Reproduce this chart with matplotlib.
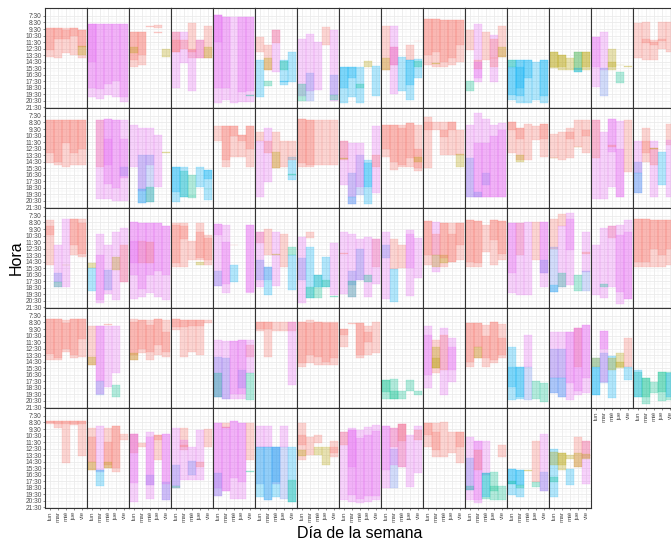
import numpy as np
import matplotlib
matplotlib.use('Agg')
from matplotlib import pyplot as plt

plt.rcParams['font.family'] = ['Liberation Sans', 'DejaVu Sans']

# Days and hour labels
dias = ['lun', 'mar', 'mié', 'jue', 'vie']
horas = [7.5 + i for i in range(15)]
etiquetas_hora = ['%d:30' % int(h) for h in horas]

# Colour of each session type
colores = {'r': '#F8766D', 'o': '#B5A000', 'g': '#00BF8C',
           'b': '#00B0F6', 'v': '#6D8BF0', 'p': '#E76BF3'}

# Sessions of each group: (day, start hour, end hour, type)
grupos = [
    # row 1
    [(1,9.4,13.75,'r'),(1,9.4,12.7,'r'),(2,9.4,14.0,'r'),(2,9.4,11.0,'r'),(3,9.4,13.2,'r'),(3,9.6,11.0,'r'),(4,9.4,13.5,'r'),(4,9.4,10.5,'r'),(5,9.6,14.0,'r'),(5,9.6,12.2,'r'),(5,12.1,13.5,'o')],
    [(1,8.7,20.0,'p'),(1,8.7,14.6,'p'),(1,8.7,18.5,'p'),(2,8.7,20.2,'p'),(2,8.7,18.8,'p'),(3,8.7,19.7,'p'),(3,8.7,18.0,'p'),(4,8.7,19.9,'p'),(4,8.7,17.5,'p'),(5,8.7,20.7,'p'),(5,8.7,20.0,'p')],
    [(1,10,15.3,'r'),(1,10,14.3,'r'),(1,12.2,13.2,'o'),(2,10,15,'r'),(2,10,13.5,'r'),(3,9.0,9.15,'r'),(4,8.9,9.4,'r'),(4,10,10.1,'r'),(5,12.5,13.75,'o')],
    [(1,10,18.5,'p'),(1,10,13,'r'),(1,11.2,13,'r'),(2,10,14.8,'p'),(2,11.2,12.6,'r'),(3,8.6,14,'r'),(3,12.7,19.1,'p'),(3,12.5,13,'r'),(4,11.2,14,'r'),(4,11.2,14,'p'),(5,9.1,14,'r'),(5,12.2,14,'o')],
    [(1,7.4,20.9,'p'),(1,7.4,18.5,'p'),(1,7.4,11.5,'p'),(2,7.6,20.4,'p'),(2,7.6,18.5,'p'),(3,7.7,20.9,'p'),(4,7.7,20.7,'p'),(4,7.7,19.2,'p'),(5,7.7,20.7,'p'),(5,7.7,19.0,'p'),(5,19.6,19.8,'g')],
    [(1,10.7,13,'r'),(1,14.3,19.9,'b'),(2,12,15.8,'r'),(2,14,15.8,'o'),(2,17.5,18.3,'g'),(3,9.7,16.1,'p'),(3,9.7,11.7,'r'),(4,14.3,18.1,'b'),(4,14.4,15.8,'g'),(4,17.5,17.6,'b'),(5,13.1,17.6,'b')],
    [(1,11.1,19.8,'p'),(1,17.9,20.6,'g'),(2,10.3,19,'p'),(2,16.2,20.6,'v'),(3,11.5,18.9,'p'),(4,9.2,12,'r'),(5,9.7,20.6,'p'),(5,16.5,19.6,'v'),(5,19.6,20.4,'g')],
    [(1,15.3,20.9,'b'),(1,15.3,18.5,'b'),(2,15.3,19.9,'b'),(2,15.3,17,'b'),(3,15.3,20.9,'b'),(3,17.9,18.6,'g'),(4,14.4,15.3,'o'),(5,15.2,19.8,'b')],
    [(1,9,15.8,'r'),(1,14,15.8,'o'),(2,9,19.5,'p'),(2,12.2,15,'r'),(2,12.2,15,'p'),(3,13.75,19,'b'),(4,12,14.3,'r'),(4,14.2,20.4,'b'),(4,14.2,18.1,'b'),(5,14.1,17,'b'),(5,14.4,15.3,'g'),(5,11.3,11.4,'r')],
    [(1,7.9,15,'r'),(1,7.9,13.5,'r'),(2,8,15.3,'r'),(2,8,13,'r'),(2,14.8,14.9,'o'),(3,8.1,15.3,'r'),(3,8.1,14.5,'r'),(4,8.1,15,'r'),(4,8.1,14,'r'),(5,8.1,14.5,'r'),(5,8.1,12,'r')],
    [(1,9.6,12.7,'r'),(1,17.5,19,'g'),(2,8.7,17.6,'p'),(2,14.2,15.6,'r'),(2,14.5,17,'p'),(3,9.9,14.3,'r'),(4,10.4,17.6,'p'),(4,14,15.3,'r'),(4,11,14,'r'),(5,9,13.75,'r'),(5,12.2,13.75,'o')],
    [(1,14.2,20.4,'b'),(1,15.3,19.6,'b'),(1,14.2,15.3,'g'),(2,14.2,20.9,'b'),(2,14.2,19.8,'b'),(2,15.3,18.5,'b'),(3,14.2,20.9,'b'),(3,14.2,17,'b'),(4,14.6,20.4,'b'),(5,14.2,20.9,'b'),(5,14.2,19.8,'b')],
    [(1,13.1,15.5,'o'),(1,13.1,15.3,'o'),(2,13.5,15.8,'o'),(2,13.5,15.3,'o'),(3,14,15.8,'o'),(4,13.1,15.8,'o'),(4,13.1,16.1,'g'),(4,15.5,16.1,'b'),(5,13.1,15.8,'o'),(5,13.1,15.3,'o')],
    [(1,10.7,18.4,'p'),(1,10.7,15.3,'p'),(2,10,15.8,'p'),(2,15.5,19.8,'v'),(3,12.5,15.8,'o'),(3,14.5,15.3,'o'),(4,16.1,17.8,'g'),(4,15,15.1,'o'),(5,15.2,15.4,'o')],
    [(1,8.6,14,'r'),(2,8.4,14.3,'r'),(2,11,11.7,'r'),(3,11.2,14.3,'r'),(3,11.5,12,'r'),(4,8.5,12.5,'r'),(4,11,11.4,'r'),(5,8.5,13,'r')],
    # row 2
    [(1,8.1,14.8,'r'),(1,8.1,13.2,'r'),(2,8.1,15,'r'),(2,8.1,14.5,'r'),(3,8.1,15.3,'r'),(3,8.1,11.7,'r'),(4,8.1,15,'r'),(4,8.1,13.2,'r'),(5,8.1,15,'r'),(5,8.1,12.5,'r')],
    [(2,8.1,15.3,'r'),(2,8.1,20.3,'p'),(3,8.0,20.3,'p'),(3,8.0,18,'p'),(3,11,15,'p'),(4,8.1,20.5,'p'),(4,8.1,18.5,'p'),(5,8.1,20.5,'p'),(5,15.3,16.8,'v'),(5,11,17,'p')],
    [(1,8.9,15.3,'p'),(2,9.4,19.1,'p'),(2,13.5,20.9,'v'),(2,18.8,20.9,'b'),(3,9.4,15,'p'),(3,13.5,20.7,'v'),(3,18.4,20.7,'g'),(4,10.4,18.4,'p'),(5,13.1,13.2,'o')],
    [(1,15.4,20.7,'b'),(1,15.4,19.2,'b'),(2,16,19.9,'g'),(2,15.4,19.9,'b'),(3,16.6,19.8,'g'),(3,19.8,20.1,'g'),(4,15.4,18.4,'b'),(5,15.8,20.4,'b'),(5,15.8,17.2,'b'),(5,18.7,18.8,'g')],
    [(1,9,11.4,'r'),(2,9,15.3,'r'),(2,9,14.3,'r'),(3,9,13.8,'r'),(3,9,10.5,'r'),(4,10.4,13.8,'r'),(4,10.4,11.4,'r'),(5,9,15.3,'r'),(5,9,12.5,'r')],
    [(1,9.9,11.4,'r'),(1,11.4,19.9,'p'),(2,9.4,17.6,'p'),(2,11.4,13.2,'r'),(3,9.9,15.5,'r'),(3,13,15.5,'o'),(4,11.4,15.3,'r'),(5,13.8,17.3,'b'),(5,11.4,14.2,'r'),(5,16.4,16.5,'g')],
    [(1,7.9,15.3,'r'),(1,7.9,14.8,'r'),(2,8.1,15.3,'r'),(2,8.1,15,'r'),(3,8.1,15,'r'),(4,8.1,15,'r'),(5,8.1,15,'r')],
    [(1,11.4,18.1,'p'),(1,11.4,14.2,'r'),(1,13.9,14.1,'o'),(2,11.7,21,'p'),(2,16.3,19.9,'v'),(2,19.9,21,'b'),(3,13.5,19.6,'v'),(3,11.7,18.4,'p'),(4,14.3,21,'b'),(4,14.8,18.4,'b'),(5,9.1,19.4,'p'),(5,13.5,15.3,'r')],
    [(1,8.9,13.8,'r'),(1,8.9,12.5,'r'),(2,8.9,15.8,'r'),(2,8.9,14.5,'r'),(3,8.9,15.3,'r'),(3,9.4,15,'r'),(4,8.6,15.3,'r'),(4,8.6,14,'r'),(5,8.9,16,'r'),(5,12.5,15.5,'r'),(5,13.8,14.6,'o')],
    [(1,7.6,15.5,'r'),(1,8.4,9.6,'r'),(2,8.4,9.6,'r'),(3,8.4,13.5,'r'),(3,9.6,10.8,'r'),(4,8.4,13.5,'r'),(4,8.4,9.6,'r'),(5,9.6,13.5,'r'),(5,13.4,15.3,'o')],
    [(1,8.9,19.9,'p'),(1,14,19.9,'v'),(2,7.1,19.9,'p'),(2,11.7,19.9,'p'),(2,19.2,19.9,'v'),(3,7.9,19.9,'p'),(3,16.3,18.1,'v'),(3,11.7,19.9,'p'),(4,8.9,19.9,'p'),(4,10.5,19.9,'p'),(5,8.6,19.9,'p'),(5,9.6,19.9,'p')],
    [(1,8.4,13.2,'r'),(1,8.4,9.6,'r'),(2,9.4,14.3,'r'),(2,9.4,11,'r'),(2,13.5,14.5,'o'),(3,8.7,14.3,'r'),(4,9,11.2,'r'),(5,8.7,13.8,'r'),(5,8.7,11,'r')],
    [(1,10.2,14,'r'),(1,13.9,14.0,'o'),(2,9.9,14.3,'r'),(3,9.4,14,'r'),(3,9.9,11,'r'),(4,8.1,12.2,'r'),(4,12.2,12.3,'o'),(5,8.1,13.2,'r'),(5,9.6,10.5,'r')],
    [(1,8.1,20.2,'p'),(1,8.1,14,'r'),(2,9.9,20.2,'p'),(3,8,18.4,'p'),(3,8,13,'p'),(3,11.9,12.3,'r'),(4,8.3,19.9,'p'),(4,12.5,19.9,'p'),(5,8.1,16.1,'r')],
    [(1,11.4,19.3,'p'),(1,14.5,16.3,'v'),(1,16.3,19.3,'b'),(2,9.4,14.5,'r'),(2,11.4,13.2,'r'),(3,11.4,19.9,'p'),(3,12.4,15,'r'),(3,12.4,12.6,'o'),(4,13,18.1,'b'),(5,8.7,12,'r'),(5,11.2,19.9,'p')],
    # row 3
    [(1,8.1,15,'r'),(1,9,10.4,'r'),(2,11.9,18.4,'p'),(2,16.3,17.6,'v'),(2,17.6,18.4,'g'),(3,8,18.4,'p'),(3,15,15.1,'o'),(4,8,13.5,'r'),(4,8,12,'r'),(5,8,13.8,'r'),(5,8.6,13.3,'r')],
    [(1,14.8,15.5,'o'),(1,15.5,19.1,'b'),(2,10.2,20.9,'p'),(2,13.5,20.4,'p'),(3,12,19.5,'p'),(3,15.8,18.9,'v'),(4,9.9,20.4,'p'),(4,13.8,15.8,'o'),(5,9.4,17.6,'p'),(5,11.9,17.6,'r')],
    [(1,8.4,20.2,'p'),(1,8.4,16.5,'p'),(1,11.4,14.8,'p'),(2,8.6,19.9,'p'),(2,11.4,14.8,'r'),(2,8.6,18.8,'p'),(3,8.6,19.4,'p'),(3,8.6,16.5,'p'),(3,11.5,14.8,'r'),(4,8.6,19.9,'p'),(4,8.6,16,'p'),(5,9.1,20.4,'p'),(5,9.1,16.5,'p')],
    [(1,8.6,15.3,'r'),(1,8.9,14.8,'r'),(2,8.6,15.3,'r'),(2,9,11,'r'),(3,11.4,14.3,'r'),(4,8.6,14.3,'r'),(4,10,14,'r'),(4,14.5,15,'o'),(5,10.4,15,'r'),(5,10.9,14.3,'r')],
    [(1,8.8,18.2,'p'),(1,8.8,10.4,'p'),(1,16,18.2,'v'),(2,8.9,19.4,'p'),(2,11.5,18,'p'),(3,15,17.6,'b'),(3,11.9,12,'r'),(5,8.9,19.4,'p'),(5,8.9,19.2,'p')],
    [(1,9.9,11.7,'r'),(1,9.9,18.4,'p'),(1,14.3,17.3,'v'),(2,9.5,13.5,'r'),(2,15.3,19.6,'b'),(2,15.3,17.3,'v'),(3,9.9,18.2,'p'),(3,13.4,13.5,'o'),(4,10.2,15.3,'r'),(5,13.5,18.9,'b'),(5,12.2,13.5,'g')],
    [(1,10.7,20.9,'p'),(1,14,17.3,'v'),(2,10,10.9,'r'),(2,12.2,20.1,'b'),(2,18.4,20.1,'g'),(3,16.5,20.1,'g'),(3,16.5,18.4,'b'),(4,13.8,18.4,'b'),(4,17.4,18.4,'g'),(5,11.7,19.6,'p'),(5,19.8,19.9,'g')],
    [(1,10,19.5,'p'),(1,13.2,13.3,'r'),(2,10.3,19.9,'p'),(2,16,18.1,'v'),(2,17.5,19.9,'g'),(3,11,17.3,'p'),(3,12.6,17.3,'v'),(4,10.8,19.9,'p'),(4,16.6,17.6,'g'),(5,11,15.3,'r'),(5,11,17.9,'p')],
    [(1,9.9,20.3,'p'),(1,12,13.9,'v'),(2,11,15.6,'r'),(2,15.6,20.7,'b'),(3,11.9,15.5,'r'),(4,9.7,19.8,'p'),(4,10.2,15.5,'p'),(5,10.9,17.1,'p')],
    [(1,8.3,15,'r'),(1,8.3,13.5,'r'),(2,8.5,16.1,'p'),(2,10.2,13.5,'r'),(2,13.5,15.3,'o'),(3,8.6,15.3,'r'),(3,13.5,14.8,'o'),(3,8.6,14,'r'),(4,8.6,14.5,'r'),(4,10.2,14.5,'r'),(5,8.6,14.3,'r'),(5,8.6,12,'r')],
    [(1,8.1,15.3,'r'),(1,8.1,14.5,'r'),(2,8.3,15.3,'r'),(2,8.3,14.8,'r'),(3,8.9,13,'r'),(4,8.1,15,'r'),(4,8.1,11.2,'r'),(5,8.3,14.3,'r'),(5,8.3,13.3,'r')],
    [(1,8.6,19.4,'p'),(1,8.6,16.3,'p'),(2,8.6,13.5,'r'),(2,8.6,19.6,'p'),(3,8.4,19.6,'p'),(4,8.5,14.3,'r'),(5,8.5,18.4,'p'),(5,8.5,16.3,'p'),(5,14.3,16.3,'v')],
    [(1,7.9,12.5,'r'),(1,12.2,19.2,'v'),(1,18.1,19.2,'b'),(2,7.2,9.1,'r'),(2,9.1,18.4,'p'),(2,16.3,18.4,'g'),(3,7.1,18.1,'p'),(3,8,12.8,'p'),(4,16.5,19.1,'g'),(5,9.9,16.1,'p'),(5,13.1,13.4,'r'),(5,16,19,'v')],
    [(1,11.9,19.6,'p'),(2,9.4,20.1,'p'),(2,17.9,18.4,'g'),(3,9.1,10.9,'r'),(3,9.1,18.4,'p'),(4,8.9,21.1,'p'),(4,10.4,19.2,'p'),(5,8.1,20.3,'p'),(5,9.9,20.3,'p')],
    [(1,8,15.3,'r'),(1,8,14.5,'r'),(2,8,15.3,'r'),(2,8,14.5,'r'),(3,8.1,15.3,'r'),(3,8.1,12.5,'r'),(4,8.1,15.3,'r'),(4,8.1,13.5,'r'),(5,8.1,15,'r'),(5,8.1,12.5,'r')],
    # row 4
    [(1,7.9,14.3,'r'),(1,7.9,13.3,'r'),(2,7.9,14.3,'r'),(2,7.9,14,'r'),(3,8.1,13,'r'),(3,8.6,12.5,'r'),(4,7.9,14,'r'),(4,7.9,13.5,'r'),(5,7.9,13.8,'r'),(5,7.9,11,'r')],
    [(1,9.1,15,'r'),(1,13.8,15,'o'),(2,9.1,19.5,'p'),(2,17.5,19.6,'v'),(2,9.1,17.5,'p'),(3,9.1,18.4,'p'),(3,8.8,8.9,'r'),(4,9.1,16.3,'p'),(4,18.1,19.9,'g')],
    [(1,7.9,14.3,'r'),(1,8.5,13.5,'r'),(1,13.2,14.3,'o'),(2,8.1,13.2,'r'),(2,8.1,12.5,'r'),(3,8.1,14.3,'r'),(3,8.9,13,'r'),(4,7.9,13.5,'r'),(4,7.9,12,'r'),(5,8.1,13.8,'r'),(5,10,13,'r')],
    [(1,7.9,9.6,'r'),(1,7.9,9.2,'r'),(2,8.1,13.8,'r'),(2,8.1,9.2,'r'),(3,8.1,13,'r'),(3,8.1,9,'r'),(4,8.1,13.5,'r'),(4,8.1,9,'r'),(5,8.1,8.6,'r')],
    [(1,11.2,19.9,'p'),(1,13.8,19.9,'v'),(1,16.3,19.9,'g'),(2,11.4,20.2,'p'),(2,14,20.2,'v'),(3,11.4,20.2,'p'),(3,11.4,19.5,'p'),(4,11.2,20.2,'p'),(4,15.8,18.6,'v'),(4,11.2,19.5,'p'),(5,11.9,13.8,'r'),(5,11.2,16.3,'p'),(5,16.3,20.4,'g')],
    [(1,8.5,9.8,'r'),(1,8.5,9.5,'r'),(2,8.5,13.8,'r'),(2,8.5,9.5,'r'),(3,8.5,9.8,'r'),(4,8.5,9.8,'r'),(5,8.5,9.8,'r'),(5,8.5,18.1,'p')],
    [(1,8.4,15.3,'r'),(1,8.4,14.8,'r'),(2,8.1,14.8,'r'),(2,8.6,13.5,'r'),(3,8.4,15,'r'),(3,8.4,13.8,'r'),(4,8.4,15,'r'),(4,8.6,14.5,'r'),(5,8.4,15,'r'),(5,8.6,14,'r')],
    [(1,9.5,12.2,'r'),(1,9.5,10.4,'r'),(2,8.6,8.8,'r'),(3,8.6,14,'r'),(3,8.6,13.5,'r'),(4,9.1,13.5,'r'),(4,10,11.5,'r'),(5,8.4,13.2,'r')],
    [(1,17.3,20.2,'g'),(1,17.3,19.2,'g'),(2,17.2,20.2,'g'),(2,19.1,20.2,'g'),(3,19.1,20.2,'g'),(4,17.3,19.1,'g'),(5,19.1,19.6,'g')],
    [(1,9.1,18.6,'p'),(1,10.4,16.5,'p'),(2,11.2,16.3,'r'),(2,12.2,15.5,'o'),(2,14,15.5,'o'),(3,9.4,19.6,'p'),(3,10.4,15.8,'r'),(4,10.9,17.6,'p'),(4,12.2,15.8,'p')],
    [(1,8.6,15.3,'r'),(1,8.6,14.5,'r'),(2,8.6,14,'r'),(2,8.6,12.2,'r'),(2,12.2,14,'o'),(3,8.9,15.3,'r'),(3,10.5,14,'r'),(4,8.5,14.8,'r'),(4,8.5,14.3,'r'),(5,8.7,14,'r'),(5,10.9,13.5,'r')],
    [(1,12.2,20.4,'b'),(1,15.3,18.4,'b'),(2,15.3,20.2,'b'),(2,15.3,19.9,'b'),(3,10.4,15.3,'p'),(3,15.3,20.4,'v'),(4,17.5,20.2,'g'),(5,17.8,20.7,'g')],
    [(1,9.9,19.4,'p'),(1,12.5,17.1,'v'),(1,17.1,19.4,'b'),(2,9.9,19.9,'p'),(2,12.5,17.1,'v'),(2,17.1,19.9,'b'),(3,9.9,20.4,'p'),(3,9.9,17.8,'p'),(4,9.4,19.6,'p'),(4,9.4,15.3,'r'),(4,9.4,19,'p'),(5,8.9,19.4,'p'),(5,8.9,17,'p')],
    [(1,13.9,19.7,'b'),(1,13.9,15.3,'o'),(1,15.3,19.7,'b'),(2,9.8,17.6,'p'),(2,13.2,17.8,'v'),(2,9.8,12.5,'p'),(3,13.6,20.1,'b'),(3,13.9,15.8,'o'),(4,13.2,15.5,'o'),(4,14.5,15.3,'o'),(5,10.9,15.3,'r'),(5,15.3,17.3,'b')],
    [(1,16.1,19.9,'g'),(1,15.8,19.9,'b'),(2,17.1,21,'g'),(2,17.1,19.9,'g'),(3,17.6,19.4,'g'),(4,16.1,20.6,'g'),(4,16.1,19.2,'g'),(5,16.1,20.4,'g'),(5,16.3,19.9,'b')],
    # row 5
    [(1,8.2,8.7,'r'),(1,8.2,8.6,'r'),(2,8.2,9.4,'r'),(2,8.2,8.7,'r'),(3,8.2,14.7,'r'),(3,8.2,8.7,'r'),(4,8.2,8.9,'r'),(4,8.2,8.7,'r'),(5,8.2,13.6,'r'),(5,8.2,8.7,'r')],
    [(1,9.4,15.8,'r'),(1,10.7,14.5,'r'),(1,14.5,15.8,'o'),(2,9.1,15.8,'p'),(2,15.8,18.3,'b'),(2,15.8,16.1,'v'),(3,9.4,15.5,'r'),(3,11.5,15,'r'),(3,14.5,15.5,'o'),(4,9.1,16.1,'r'),(4,9.1,15.5,'r'),(5,10.2,11.2,'r')],
    [(1,10.2,20.7,'p'),(1,10.2,13.2,'r'),(1,10.2,17.8,'p'),(2,11.6,12.2,'r'),(3,9.9,20.2,'p'),(3,16.6,18.1,'v'),(3,10.7,18.1,'p'),(4,10.4,14.3,'r'),(4,10.4,11.2,'r'),(5,10.2,20.4,'p'),(5,17.6,20.4,'v'),(5,10.2,18,'p')],
    [(1,9.4,18.6,'p'),(1,15,18.3,'v'),(1,18.3,18.6,'g'),(2,9.4,12.7,'r'),(2,11.2,17.3,'p'),(2,11.9,12.3,'r'),(3,12.2,17.3,'p'),(3,14.4,16.5,'v'),(4,9.6,17.3,'p'),(4,14.5,15.3,'r'),(5,9.5,12.2,'r')],
    [(1,8.6,19.8,'p'),(1,8.6,18.5,'p'),(1,16.3,19.8,'v'),(2,9.2,19.1,'p'),(2,9.2,19,'p'),(2,8.6,9.4,'r'),(3,8.3,20.2,'p'),(3,8.3,17.1,'p'),(4,8.6,20.2,'p'),(4,8.6,17.6,'p'),(5,8.6,14.3,'r'),(5,16,16.1,'g')],
    [(1,9,12.3,'p'),(1,12.3,18,'v'),(1,12.3,20,'b'),(2,9,12.3,'p'),(2,12.3,20.4,'v'),(2,12.3,20.4,'b'),(3,12.3,19.9,'b'),(3,12.3,17.6,'b'),(3,12.3,18,'v'),(4,9,12.3,'p'),(4,12.3,20.2,'v'),(5,12.3,20.7,'b'),(5,17.3,20.7,'g')],
    [(1,8.6,14.2,'r'),(1,10.4,12,'r'),(1,12.7,13.6,'o'),(2,10.8,13.5,'r'),(3,10.4,11.7,'r'),(3,12.2,13.5,'o'),(4,12.2,15,'o'),(5,11.4,13.8,'r'),(5,12.2,13.2,'r')],
    [(1,9.9,20.4,'p'),(1,9.9,11.9,'r'),(2,9.4,20.7,'p'),(2,9.6,19.6,'p'),(2,9.6,15.3,'p'),(3,9.6,20.9,'p'),(3,10.9,20.2,'p'),(4,9.2,20.7,'p'),(4,10.4,19.8,'p'),(5,8.9,20.4,'p'),(5,9.8,19.8,'p')],
    [(1,9.1,18.6,'p'),(1,9.1,15.8,'p'),(2,9.4,12.2,'r'),(2,12.5,18.6,'v'),(2,9.4,15,'p'),(3,8.7,15.3,'r'),(3,8.7,15.3,'p'),(3,8.7,11.3,'r'),(4,10.4,18.4,'p'),(5,9,16.3,'p'),(5,9.7,11.2,'r')],
    [(1,8.6,12.2,'r'),(1,8.6,10.4,'r'),(2,8.6,13.8,'r'),(2,9.9,12.7,'r'),(3,8.4,13.8,'r'),(4,9.9,13.2,'r'),(5,9.9,14.8,'r'),(5,9.9,12.2,'r')],
    [(1,10.8,20.4,'p'),(1,13.9,18.9,'v'),(1,18.3,18.9,'g'),(2,11.4,20.9,'p'),(2,11.4,20.4,'p'),(2,12.7,15.8,'r'),(3,11.4,16.6,'p'),(3,16.3,20.2,'g'),(3,16.3,19.9,'b'),(4,16.1,20.4,'g'),(4,18.3,19,'g'),(5,18.3,20.4,'g'),(5,11.9,13.8,'r')],
    [(1,15.6,19.7,'b'),(1,15.6,18,'b'),(1,17.5,18,'g'),(2,15.8,19.9,'b'),(2,15.8,18.1,'b'),(2,18.1,18.6,'g'),(3,15.8,15.9,'o'),(4,11.3,17.6,'r'),(4,17.7,18.4,'g'),(5,10.2,19.1,'p'),(5,16.1,19.1,'v')],
    [(1,12.5,19.9,'b'),(1,13.1,15,'o'),(1,16.9,17.6,'g'),(2,13.2,15.8,'o'),(2,13.2,15,'o'),(3,15.6,18.1,'b'),(3,13.5,14.1,'o'),(4,10.8,15.3,'r'),(4,13.2,15.3,'o'),(5,11.4,17.9,'p'),(5,11.4,14,'r'),(5,13.4,14.1,'o')],
]

n_cols = 15
n_paneles = len(grupos)
W, H = 671, 542

fig = plt.figure(figsize=(W / 100, H / 100), dpi=100)

for i, bloques in enumerate(grupos):
    fila, col = divmod(i, n_cols)
    ax = fig.add_axes([(45 + 42 * col) / W, 1 - (108 + 100 * fila) / H, 42 / W, 100 / H])

    for d, ini, fin, c in bloques:
        ax.bar(d, fin - ini, bottom=ini, width=1.0, color=colores[c],
               edgecolor=colores[c], linewidth=0.3, alpha=0.3, zorder=2)

    ax.set_xlim(0.4, 5.6)
    ax.set_ylim(21.65, 6.27)
    ax.set_xticks(range(1, 6))
    ax.set_xticks(np.arange(1.5, 5, 1), minor=True)
    ax.set_yticks(horas)
    ax.set_yticks(np.arange(8, 22, 1), minor=True)
    ax.grid(which='major', color='#EBEBEB', linewidth=0.6, zorder=0)
    ax.grid(which='minor', color='#F2F2F2', linewidth=0.35, zorder=0)
    ax.set_axisbelow(True)
    for s in ax.spines.values():
        s.set_color('#333333')
        s.set_linewidth(0.8)

    ax.tick_params(which='minor', length=0)
    ax.tick_params(which='major', length=1.5, width=0.4, color='#333333', pad=0.8,
                   labelsize=4.8, labelcolor='#4D4D4D')

    # y labels only on the first column
    if col == 0:
        ax.set_yticklabels(etiquetas_hora)
    else:
        ax.tick_params(axis='y', length=0, labelleft=False)

    # x labels only where there is no panel below
    if i + n_cols >= n_paneles:
        ax.set_xticklabels(dias, rotation=90, fontsize=4.6)
    else:
        ax.tick_params(axis='x', length=0, labelbottom=False)

fig.text(16 / W, 1 - 258 / H, 'Hora', rotation=90, ha='center', va='center', fontsize=11.5)
fig.text(360 / W, 1 - 533 / H, 'Día de la semana', ha='center', va='center', fontsize=11.5)

fig.savefig('out.png', dpi=100)
